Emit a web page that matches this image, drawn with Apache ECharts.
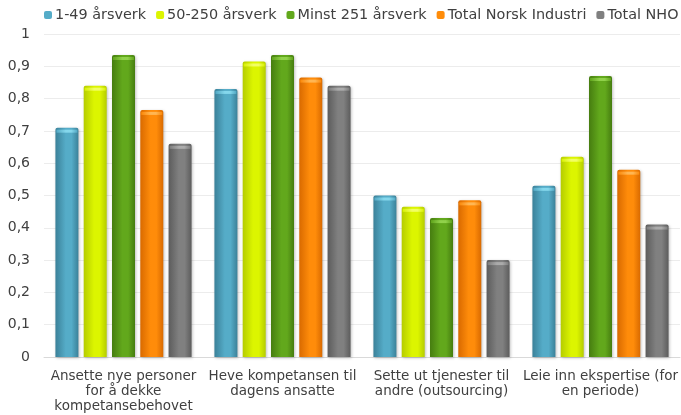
<!DOCTYPE html>
<html>
<head>
<meta charset="utf-8">
<script src="https://cdn.jsdelivr.net/npm/echarts@6/dist/echarts.min.js"></script>
<style>
  html, body { margin: 0; padding: 0; background: #fff; }
  #chart { width: 681px; height: 415px; }
</style>
</head>
<body>
<div id="chart"></div>
<script>
// Categories (x axis) and series values
const categories = [
  'Ansette nye personer\nfor å dekke\nkompetansebehovet',
  'Heve kompetansen til\ndagens ansatte',
  'Sette ut tjenester til\nandre (outsourcing)',
  'Leie inn ekspertise (for\nen periode)'
];
const seriesNames = ['1-49 årsverk', '50-250 årsverk', 'Minst 251 årsverk', 'Total Norsk Industri', 'Total NHO'];
const small = [0.71, 0.83, 0.50, 0.53];
const medium = [0.84, 0.915, 0.465, 0.62];
const large = [0.935, 0.935, 0.43, 0.87];
const norskIndustri = [0.765, 0.865, 0.485, 0.58];
const totalNho = [0.66, 0.84, 0.30, 0.41];
const yTicks = [0, 0.1, 0.2, 0.3, 0.4, 0.5, 0.6, 0.7, 0.8, 0.9, 1];

const seriesData = [small, medium, large, norskIndustri, totalNho];
// edge, centre and top-cap colours of each bar
const palette = [
  ['#3b8199', '#55acc8', '#8adcf0'],
  ['#b5cc00', '#dcf500', '#f4ff70'],
  ['#467d10', '#62a81c', '#96d650'],
  ['#d96a00', '#ff8c0a', '#ffbb5c'],
  ['#5c5c5c', '#808080', '#b0b0b0']
];

function shade(a, b) {
  return new echarts.graphic.LinearGradient(0, 0, 1, 0, [
    { offset: 0, color: a },
    { offset: 0.45, color: b },
    { offset: 0.7, color: b },
    { offset: 1, color: a }
  ]);
}

const chart = echarts.init(document.getElementById('chart'), null, { renderer: 'canvas' });
const font = '"DejaVu Sans", Verdana, sans-serif';

const bars = seriesData.map((d, i) => ({
  name: seriesNames[i],
  type: 'bar',
  data: d,
  barWidth: 23,
  barGap: '23%',
  itemStyle: {
    color: shade(palette[i][0], palette[i][1]),
    borderRadius: [2, 2, 0, 0],
    shadowColor: 'rgba(0,0,0,0.25)',
    shadowBlur: 3,
    shadowOffsetX: 1,
    shadowOffsetY: 1
  }
}));

// light bevel on the top of each bar
const caps = seriesData.map((d, i) => ({
  name: seriesNames[i],
  type: 'pictorialBar',
  data: d,
  barWidth: 23,
  barGap: '23%',
  symbol: 'rect',
  symbolSize: [21, 3],
  symbolPosition: 'end',
  symbolOffset: [0, 2],
  z: 5,
  silent: true,
  itemStyle: { color: shade(palette[i][1], palette[i][2]), opacity: 0.9 }
}));

chart.setOption({
  animation: false,
  textStyle: { fontFamily: font },
  legend: {
    top: 8,
    left: 44,
    padding: 0,
    itemWidth: 8,
    itemHeight: 8,
    itemGap: 10,
    textStyle: { fontFamily: font, fontSize: 14.4, color: '#404040', padding: [0, 0, 0, -2] },
    data: seriesNames.map((n, i) => ({ name: n, itemStyle: { color: palette[i][1] } }))
  },
  grid: { left: 44, right: 1, top: 34, bottom: 58, containLabel: false, outerBoundsMode: 'none' },
  xAxis: {
    type: 'category',
    data: categories,
    axisLine: { lineStyle: { color: '#d9d9d9', width: 1 } },
    axisTick: { show: false },
    axisLabel: { fontFamily: font, fontSize: 13.5, color: '#404040', lineHeight: 15, margin: 12, interval: 0 }
  },
  yAxis: {
    type: 'value',
    min: 0,
    max: 1,
    interval: 0.1,
    axisLine: { show: false },
    axisTick: { show: false },
    splitLine: { lineStyle: { color: '#ececec' } },
    axisLabel: {
      fontFamily: font, fontSize: 14, color: '#404040', margin: 14,
      formatter: v => {
        const t = yTicks.find(x => Math.abs(x - v) < 1e-9);
        return String(t === undefined ? v : t).replace('.', ',');
      }
    }
  },
  series: bars.concat(caps)
});
</script>
</body>
</html>
